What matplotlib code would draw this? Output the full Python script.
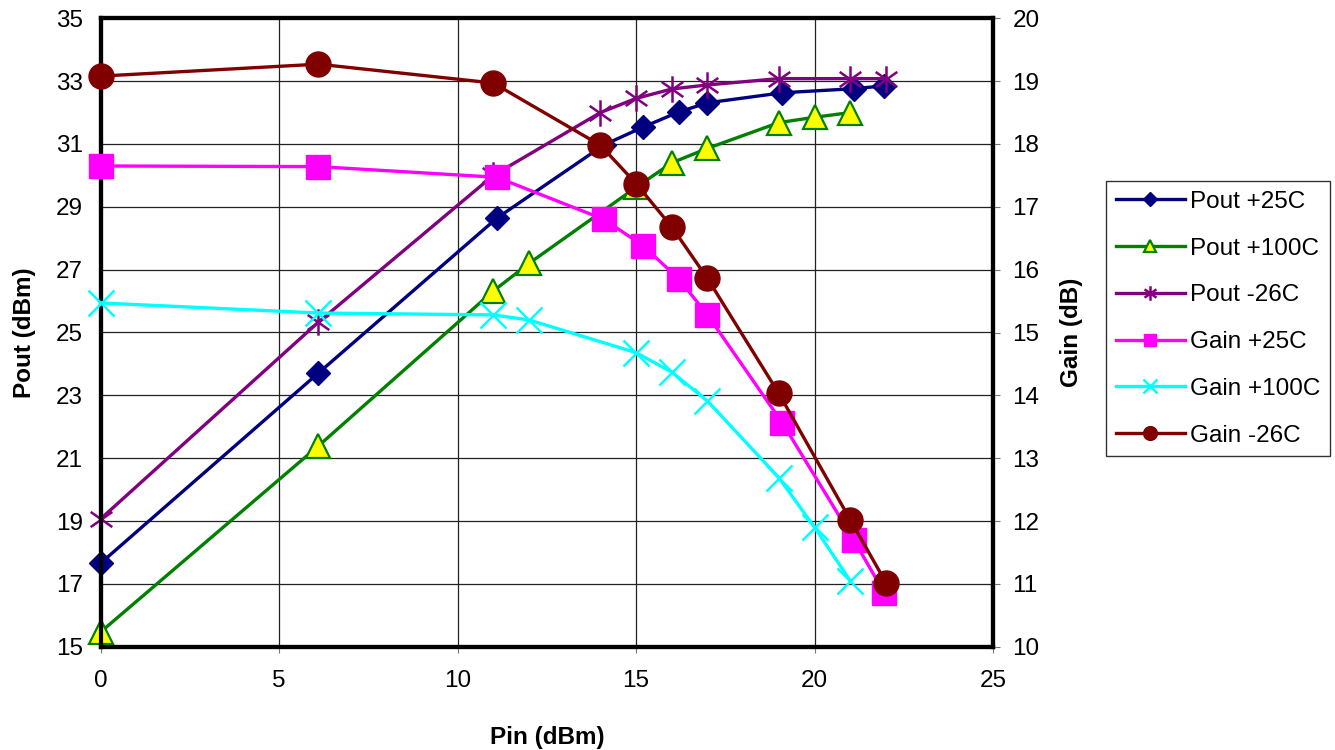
import matplotlib
matplotlib.use("Agg")
import matplotlib.pyplot as plt
from matplotlib.path import Path
import numpy as np

plt.rcParams['font.family'] = ['Liberation Sans', 'DejaVu Sans']

# Input power sweep (dBm) for each temperature
pin_25 = [0, 6.1, 11.1, 14.1, 15.2, 16.2, 17.0, 19.1, 21.1, 21.95]
pin_100 = [0, 6.1, 11.0, 12.0, 15.0, 16.0, 17.0, 19.0, 20.0, 21.0]
pin_m26 = [0, 6.1, 11.0, 14.0, 15.0, 16.0, 17.0, 19.0, 21.0, 22.0]

# Output power (dBm)
pout_25 = [17.66, 23.71, 28.64, 30.97, 31.54, 32.02, 32.31, 32.63, 32.76, 32.85]
pout_100 = [15.47, 21.39, 26.32, 27.20, 29.62, 30.40, 30.86, 31.68, 31.85, 32.00]
pout_m26 = [19.07, 25.33, 30.00, 32.00, 32.45, 32.75, 32.88, 33.08, 33.08, 33.08]

# Gain (dB)
gain_25 = [17.65, 17.64, 17.47, 16.80, 16.38, 15.85, 15.28, 13.56, 11.70, 10.86]
gain_100 = [15.47, 15.31, 15.28, 15.20, 14.68, 14.37, 13.91, 12.69, 11.90, 11.05]
gain_m26 = [19.08, 19.27, 18.97, 17.98, 17.37, 16.68, 15.86, 14.03, 12.02, 11.02]

x_ticks = [0, 5, 10, 15, 20, 25]
pout_ticks = [15, 17, 19, 21, 23, 25, 27, 29, 31, 33, 35]
gain_ticks = [10, 11, 12, 13, 14, 15, 16, 17, 18, 19, 20]

# six-armed asterisk marker: one vertical stroke plus two diagonals
ang = np.deg2rad(35)
c, s = np.cos(ang), np.sin(ang)
star_path = Path(
    [(0, -1), (0, 1), (-c, -s), (c, s), (-c, s), (c, -s)],
    [Path.MOVETO, Path.LINETO, Path.MOVETO, Path.LINETO, Path.MOVETO, Path.LINETO],
)

W, H = 1335, 750
fig = plt.figure(figsize=(W / 100, H / 100), dpi=100)
L, R, T, B = 100.7, 993, 18.3, 646.7
ax = fig.add_axes([L / W, 1 - B / H, (R - L) / W, (B - T) / H])
ax2 = ax.twinx()

FS = 17.5
lw = 2.4

h1, = ax.plot(pin_25, pout_25, color='#000080', lw=lw, marker='D', ms=12.5,
              mfc='#000080', mec='#000080', label='Pout +25C', zorder=3, clip_on=False)
h2, = ax.plot(pin_100, pout_100, color='#008000', lw=lw, marker='^', ms=17,
              mfc='#FFFF00', mec='#008000', mew=1.6, label='Pout +100C', zorder=3,
              clip_on=False)
h3, = ax.plot(pin_m26, pout_m26, color='#800080', lw=lw, marker=star_path, ms=19,
              mfc='none', mec='#800080', mew=1.8, label='Pout -26C', zorder=3,
              clip_on=False)

h4, = ax2.plot(pin_25, gain_25, color='#FF00FF', lw=lw, marker='s', ms=17,
               mfc='#FF00FF', mec='#FF00FF', label='Gain +25C', zorder=3, clip_on=False)
h5, = ax2.plot(pin_100, gain_100, color='#00FFFF', lw=lw, marker='x', ms=19,
               mec='#00FFFF', mew=1.8, label='Gain +100C', zorder=3, clip_on=False)
h6, = ax2.plot(pin_m26, gain_m26, color='#800000', lw=lw, marker='o', ms=18,
               mfc='#800000', mec='#800000', label='Gain -26C', zorder=3, clip_on=False)

ax.set_xlim(0, 25)
ax.set_ylim(15, 35)
ax2.set_ylim(10, 20)
ax.set_xticks(x_ticks)
ax.set_yticks(pout_ticks)
ax2.set_yticks(gain_ticks)

ax.grid(True, color='#222222', lw=0.9, zorder=0)
ax.set_axisbelow(True)

for a in (ax, ax2):
    for sp in a.spines.values():
        sp.set_linewidth(3)
        sp.set_color('black')
        sp.set_zorder(2.5)

ax.tick_params(axis='y', length=0, pad=13, labelsize=FS)
ax.tick_params(axis='x', length=4, width=0.8, color='#777777', pad=13, labelsize=FS)
ax2.tick_params(axis='y', length=5, width=0.8, color='#777777', pad=9, labelsize=FS)

ax.set_xlabel('Pin (dBm)', fontsize=FS, fontweight='bold', labelpad=24)
ax.set_ylabel('Pout (dBm)', fontsize=FS, fontweight='bold', labelpad=14)
ax2.set_ylabel('Gain (dB)', fontsize=FS, fontweight='bold', labelpad=15, rotation=90)

leg = fig.legend(handles=[h1, h2, h3, h4, h5, h6], loc='upper left',
                 bbox_to_anchor=(1106 / W, 1 - 181 / H), borderaxespad=0,
                 fontsize=FS, frameon=True, fancybox=False, edgecolor='black',
                 markerscale=0.55, handlelength=2.85, handletextpad=0.2,
                 labelspacing=1.02, borderpad=0.4)
leg.get_frame().set_linewidth(1.0)

fig.savefig('out.png', dpi=100)
